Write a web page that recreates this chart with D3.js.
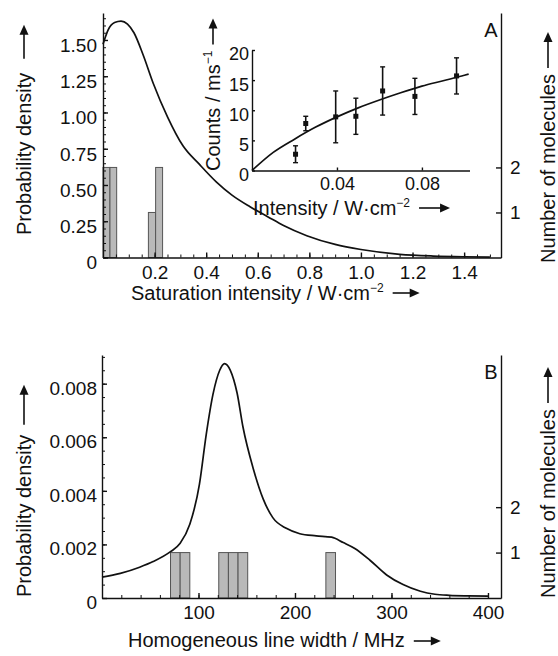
<!DOCTYPE html>
<html>
<head>
<meta charset="utf-8">
<script src="https://cdn.jsdelivr.net/npm/d3@7"></script>
<style>
  body { margin: 0; background: #fff; }
  svg text { font-family: "Liberation Sans", Arial, sans-serif; fill: #111; }
</style>
</head>
<body>
<svg id="chart" width="558" height="656"></svg>
<script>
// ---- panel A: saturation intensity (W/cm2) ----
var satX       = [0, 0.02, 0.045, 0.07, 0.095, 0.12, 0.155, 0.195, 0.25, 0.31, 0.375, 0.44, 0.5, 0.57, 0.64, 0.7, 0.79, 0.9, 1.0, 1.15, 1.28, 1.4, 1.5];
var satDensity = [1.47, 1.57, 1.62, 1.63, 1.61, 1.55, 1.40, 1.20, 0.97, 0.77, 0.64, 0.52, 0.43, 0.35, 0.28, 0.22, 0.15, 0.09, 0.055, 0.022, 0.01, 0.005, 0.003];
var satBinStart = [0, 0.027, 0.176, 0.204];
var satBinEnd   = [0.027, 0.053, 0.204, 0.231];
var satBinCount = [2, 2, 1, 2];
var satTicks  = [0.2, 0.4, 0.6, 0.8, 1.0, 1.2, 1.4];
var satLabels = ["0.2", "0.4", "0.6", "0.8", "1.0", "1.2", "1.4"];
var densATicks  = [0, 0.25, 0.5, 0.75, 1.0, 1.25, 1.5];
var densALabels = ["0", "0.25", "0.50", "0.75", "1.00", "1.25", "1.50"];

// ---- inset: counts vs intensity ----
var intensity = [0.0205, 0.0253, 0.0394, 0.0489, 0.0615, 0.0767, 0.0963];
var counts    = [2.7, 7.8, 8.9, 9.0, 13.2, 12.3, 15.7];
var countsErr = [1.4, 1.2, 4.3, 3.0, 4.0, 3.0, 3.0];
var fitX = [0, 0.01, 0.02, 0.03, 0.04, 0.05, 0.06, 0.07, 0.08, 0.09, 0.1, 0.102];
var fitY = [0, 3.0, 5.2, 7.2, 8.9, 10.4, 11.7, 12.9, 14.0, 14.9, 15.8, 16.0];
var insetXTicks = [0.04, 0.08];
var insetXLabels = ["0.04", "0.08"];
var insetYTicks = [0, 5, 10, 15, 20];

// ---- panel B: homogeneous line width (MHz) ----
var lwX       = [0, 19, 39, 53, 71, 81, 91, 101, 108, 115, 122, 127, 133, 140, 146, 157, 167, 177, 191, 205, 222, 238, 250, 262, 278, 295, 312, 330, 345, 360, 380, 400];
var lwDensity = [0.00078, 0.00092, 0.00115, 0.00136, 0.00173, 0.00204, 0.00275, 0.00425, 0.0061, 0.0076, 0.0085, 0.00875, 0.0085, 0.00765, 0.0064, 0.0048, 0.0037, 0.0030, 0.0026, 0.0024, 0.00232, 0.00227, 0.00207, 0.00185, 0.0014, 0.00086, 0.0005, 0.00025, 0.00014, 0.0001, 0.00008, 0.00007];
var lwBinStart = [71, 81, 121, 131, 141, 232];
var lwBinEnd   = [81, 91, 131, 141, 151, 242];
var lwBinCount = [1, 1, 1, 1, 1, 1];
var lwTicks = [100, 200, 300, 400];
var densBTicks  = [0, 0.002, 0.004, 0.006, 0.008];
var densBLabels = ["0", "0.002", "0.004", "0.006", "0.008"];

var moleculeTicks = [1, 2];

var svg = d3.select("#chart");
var TICK_FS = 19, TITLE_FS = 20;

// scales
var xA = d3.scaleLinear().domain([0, 1.543]).range([103, 501]);
var yA = d3.scaleLinear().domain([0, 1.686]).range([257.5, 13]);
var nA = d3.scaleLinear().domain([0, 5.43]).range([257.5, 13]);

var xI = d3.scaleLinear().domain([0, 0.1024]).range([252, 469.5]);
var yI = d3.scaleLinear().domain([0, 20]).range([170.5, 50]);

var xB = d3.scaleLinear().domain([0, 413.5]).range([102, 501]);
var yB = d3.scaleLinear().domain([0, 0.00907]).range([598, 355]);
var nB = d3.scaleLinear().domain([0, 5.35]).range([598, 355]);

function styleAxis(g, fs) {
  g.selectAll("path, line").attr("stroke", "#111").attr("stroke-width", 1.4);
  g.selectAll("text").attr("font-size", fs).attr("fill", "#111");
  g.attr("font-family", null);
}

function drawBars(starts, ends, cnt, x, n) {
  svg.append("g").selectAll("rect")
    .data(cnt)
    .join("rect")
    .attr("x", (d, i) => x(starts[i]))
    .attr("width", (d, i) => x(ends[i]) - x(starts[i]))
    .attr("y", d => n(d))
    .attr("height", d => n(0) - n(d))
    .attr("fill", "#b9b9b9")
    .attr("stroke", "#555")
    .attr("stroke-width", 1);
}

function drawCurve(xs, ys, x, y, w) {
  var pts = xs.map((v, i) => [v, ys[i]]);
  svg.append("path")
    .datum(pts)
    .attr("fill", "none")
    .attr("stroke", "#111")
    .attr("stroke-width", w)
    .attr("d", d3.line().x(d => x(d[0])).y(d => y(d[1])).curve(d3.curveMonotoneX));
}

function minorLeft(x, scale, vals, len) {
  var g = svg.append("g").attr("transform", "translate(" + x + ",0)")
    .call(d3.axisLeft(scale).tickValues(vals).tickSize(-len).tickFormat(""));
  g.select(".domain").remove();
  styleAxis(g, TICK_FS);
  g.selectAll("line").attr("stroke-width", 1);
}

function minorBottom(y, scale, vals, len) {
  var g = svg.append("g").attr("transform", "translate(0," + y + ")")
    .call(d3.axisBottom(scale).tickValues(vals).tickSize(-len).tickFormat(""));
  g.select(".domain").remove();
  styleAxis(g, TICK_FS);
  g.selectAll("line").attr("stroke-width", 1);
}

function arrowH(x1, x2, y) {
  svg.append("line").attr("x1", x1).attr("x2", x2 - 6).attr("y1", y).attr("y2", y)
    .attr("stroke", "#111").attr("stroke-width", 1.6);
  svg.append("path").attr("d", "M" + x2 + "," + y + "L" + (x2 - 10) + "," + (y - 4.5) + "L" + (x2 - 10) + "," + (y + 4.5) + "Z")
    .attr("fill", "#111");
}

function arrowV(x, y1, y2) {
  svg.append("line").attr("x1", x).attr("x2", x).attr("y1", y1).attr("y2", y2 + 6)
    .attr("stroke", "#111").attr("stroke-width", 1.6);
  svg.append("path").attr("d", "M" + x + "," + y2 + "L" + (x - 4.5) + "," + (y2 + 10) + "L" + (x + 4.5) + "," + (y2 + 10) + "Z")
    .attr("fill", "#111");
}

// text with a superscript, optional rotation; returns its length
function title(x, y, main, sup, rotate, fs) {
  var t = svg.append("text").attr("font-size", fs || TITLE_FS);
  if (rotate) {
    t.attr("transform", "translate(" + x + "," + y + ") rotate(-90)");
  } else {
    t.attr("x", x).attr("y", y);
  }
  t.append("tspan").text(main);
  if (sup) {
    t.append("tspan").attr("dy", -8).attr("font-size", 12).text(sup);
  }
  return t.node().getComputedTextLength();
}

// ================= panel A =================
drawBars(satBinStart, satBinEnd, satBinCount, xA, nA);
drawCurve(satX, satDensity, xA, yA, 1.7);

minorLeft(103, yA, d3.range(0, 1.66, 0.05), 3);
minorBottom(257.5, xA, d3.range(0.05, 1.51, 0.05), 3);

var gAy = svg.append("g").attr("transform", "translate(103,0)")
  .call(d3.axisLeft(yA).tickValues(densATicks).tickSize(-5).tickSizeOuter(0).tickPadding(6)
    .tickFormat((d, i) => densALabels[i]));
styleAxis(gAy, TICK_FS);
gAy.selectAll("text").attr("dy", "0.6em");

var gAx = svg.append("g").attr("transform", "translate(0,257.5)")
  .call(d3.axisBottom(xA).tickValues(satTicks).tickSize(-5).tickSizeOuter(0).tickPadding(8)
    .tickFormat((d, i) => satLabels[i]));
styleAxis(gAx, TICK_FS);

var gAr = svg.append("g").attr("transform", "translate(501,0)")
  .call(d3.axisRight(nA).tickValues(moleculeTicks).tickSize(-5).tickSizeOuter(0).tickPadding(9)
    .tickFormat(d3.format("d")));
styleAxis(gAr, TICK_FS);

svg.append("text").attr("x", 491).attr("y", 37).attr("text-anchor", "middle")
  .attr("font-size", TITLE_FS).text("A");

// ================= inset =================
drawCurve(fitX, fitY, xI, yI, 1.7);

var gIy = svg.append("g").attr("transform", "translate(252,0)")
  .call(d3.axisLeft(yI).tickValues(insetYTicks).tickSize(-3).tickSizeOuter(0).tickPadding(3)
    .tickFormat(d3.format("d")));
styleAxis(gIy, 18);
gIy.selectAll("text").attr("dy", "0.55em");

var gIx = svg.append("g").attr("transform", "translate(0,170.5)")
  .call(d3.axisBottom(xI).tickValues(insetXTicks).tickSize(-3).tickSizeOuter(0).tickPadding(7)
    .tickFormat((d, i) => insetXLabels[i]));
styleAxis(gIx, 18);

var pts = svg.append("g");
intensity.forEach(function (v, i) {
  var cx = xI(v);
  var top = yI(counts[i] + countsErr[i]), bot = yI(counts[i] - countsErr[i]);
  pts.append("line").attr("x1", cx).attr("x2", cx).attr("y1", top).attr("y2", bot)
    .attr("stroke", "#111").attr("stroke-width", 1.6);
  pts.append("line").attr("x1", cx - 2.5).attr("x2", cx + 2.5).attr("y1", top).attr("y2", top)
    .attr("stroke", "#111").attr("stroke-width", 1.4);
  pts.append("line").attr("x1", cx - 2.5).attr("x2", cx + 2.5).attr("y1", bot).attr("y2", bot)
    .attr("stroke", "#111").attr("stroke-width", 1.4);
  pts.append("rect").attr("x", cx - 2.5).attr("y", yI(counts[i]) - 2.5)
    .attr("width", 5).attr("height", 5).attr("fill", "#111");
});

// inset titles
var lenIx = title(253, 215, "Intensity / W\u00b7cm", "\u22122", false);
arrowH(253 + lenIx + 9, 253 + lenIx + 40, 208);
var lenIy = title(220, 171, "Counts / ms", "\u22121", true);
arrowV(213, 171 - lenIy - 6, 171 - lenIy - 32);

// ================= panel B =================
drawBars(lwBinStart, lwBinEnd, lwBinCount, xB, nB);
drawCurve(lwX, lwDensity, xB, yB, 1.7);

minorLeft(102, yB, d3.range(0, 0.00901, 0.0005), 3);
minorBottom(598, xB, d3.range(20, 401, 20), 3);

var gBy = svg.append("g").attr("transform", "translate(102,0)")
  .call(d3.axisLeft(yB).tickValues(densBTicks).tickSize(-5).tickSizeOuter(0).tickPadding(5)
    .tickFormat((d, i) => densBLabels[i]));
styleAxis(gBy, TICK_FS);
gBy.selectAll("text").attr("dy", "0.55em");

var gBx = svg.append("g").attr("transform", "translate(0,598)")
  .call(d3.axisBottom(xB).tickValues(lwTicks).tickSize(-5).tickSizeOuter(0).tickPadding(8)
    .tickFormat(d3.format("d")));
styleAxis(gBx, TICK_FS);

var gBr = svg.append("g").attr("transform", "translate(501,0)")
  .call(d3.axisRight(nB).tickValues(moleculeTicks).tickSize(-5).tickSizeOuter(0).tickPadding(9)
    .tickFormat(d3.format("d")));
styleAxis(gBr, TICK_FS);

svg.append("text").attr("x", 491).attr("y", 379).attr("text-anchor", "middle")
  .attr("font-size", TITLE_FS).text("B");

// ================= axis titles =================
var lenAx = title(131, 300, "Saturation intensity / W\u00b7cm", "\u22122", false);
arrowH(131 + lenAx + 9, 131 + lenAx + 36, 293);
var lenBx = title(128, 647, "Homogeneous line width / MHz", null, false);
arrowH(128 + lenBx + 9, 128 + lenBx + 36, 641);

var lenAl = title(31, 235, "Probability density", null, true);
arrowV(24, 235 - lenAl - 14, 235 - lenAl - 48);
var lenBl = title(31, 597, "Probability density", null, true);
arrowV(24, 597 - lenBl - 10, 597 - lenBl - 50);

var lenAr = title(555, 263, "Number of molecules", null, true);
arrowV(548, 263 - lenAr - 6, 263 - lenAr - 42);
var lenBr = title(555, 598, "Number of molecules", null, true);
arrowV(548, 598 - lenBr - 6, 598 - lenBr - 42);
</script>
</body>
</html>
